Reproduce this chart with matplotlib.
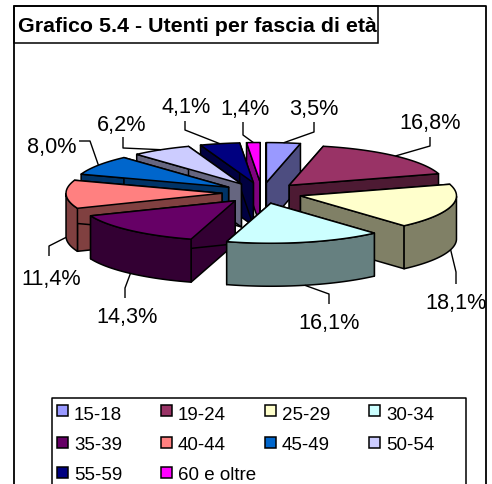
import numpy as np
import matplotlib
matplotlib.use('Agg')
from matplotlib import pyplot as plt
from matplotlib.patches import Polygon, Rectangle

plt.rcParams['font.family'] = ['Liberation Sans', 'DejaVu Sans']

title = "Grafico 5.4 - Utenti per fascia di età"
categories = ['15-18', '19-24', '25-29', '30-34', '35-39', '40-44', '45-49', '50-54', '55-59', '60 e oltre']
values = [3.5, 16.8, 18.1, 16.1, 14.3, 11.4, 8.0, 6.2, 4.1, 1.4]
value_labels = ['3,5%', '16,8%', '18,1%', '16,1%', '14,3%', '11,4%', '8,0%', '6,2%', '4,1%', '1,4%']
top_colors = ['#9999FF', '#993366', '#FFFFCC', '#CCFFFF', '#660066', '#FF8080', '#0066CC', '#CCCCFF', '#000080', '#FF00FF']
side_colors = ['#4D4D80', '#4D1A33', '#808066', '#668080', '#330033', '#804040', '#003366', '#666680', '#000040', '#800080']

# label centres and leader elbows, in pixels
label_pos = [(314, 109), (430, 123), (456, 304), (329, 324), (127, 318), (51, 279), (52, 147), (122, 125), (186, 107), (245, 109)]
elbows = [[(314, 132), (314, 122)], [(430, 146), (430, 137)], [(456, 272), (456, 284)], [(329, 294), (329, 304)],
          [(125, 288), (125, 298)], [(49, 246), (49, 256)], [(90, 141), (79, 141)], [(123, 148), (123, 137)],
          [(185, 130), (185, 121)], [(243, 135), (243, 122)]]

# pie geometry in pixels
cx, cy = 262, 193
rx, ry = 156, 40
ex, ey = 40, 10.5
depth = 43
edge = dict(edgecolor='black', linewidth=1.1, joinstyle='round')

fig = plt.figure(figsize=(4.92, 4.84), dpi=100)
ax = fig.add_axes([0, 0, 1, 1])
ax.set_xlim(0, 492)
ax.set_ylim(484, 0)
ax.axis('off')


def rim_point(a, ox, oy):
    return ox + rx * np.sin(a), oy - ry * np.cos(a)


shares = np.array(values) / sum(values)
ends = np.cumsum(shares) * 2 * np.pi
starts = ends - shares * 2 * np.pi
mids = (starts + ends) / 2

# back slices first, so the front ones cover them
order = np.argsort(-np.cos(mids))
for i in order:
    ox = cx + ex * np.sin(mids[i])
    oy = cy - ey * np.cos(mids[i])
    arc = np.linspace(starts[i], ends[i], 60)
    xs, ys = rim_point(arc, ox, oy)
    top = [(ox, oy)] + list(zip(xs, ys))

    for a in (starts[i], ends[i]):
        px, py = rim_point(a, ox, oy)
        ax.add_patch(Polygon([(ox, oy), (px, py), (px, py + depth), (ox, oy + depth)], facecolor=side_colors[i], **edge))

    front = arc[np.cos(arc) <= 0]
    if len(front) > 1:
        fx, fy = rim_point(front, ox, oy)
        wall = list(zip(fx, fy)) + list(zip(fx[::-1], fy[::-1] + depth))
        ax.add_patch(Polygon(wall, facecolor=side_colors[i], **edge))

    ax.add_patch(Polygon(top, facecolor=top_colors[i], **edge))

# leader lines and value labels
for i in range(len(values)):
    ox = cx + ex * np.sin(mids[i])
    oy = cy - ey * np.cos(mids[i])
    px, py = rim_point(mids[i], ox, oy)
    if np.cos(mids[i]) <= 0:
        py += depth
    pts = [(px, py)] + elbows[i]
    ax.plot([p[0] for p in pts], [p[1] for p in pts], color='black', lw=1.0, solid_capstyle='butt')
    ax.text(label_pos[i][0], label_pos[i][1], value_labels[i], fontsize=15.6, color='black', ha='center', va='center')

# outer frame, runs off the bottom of the picture
ax.plot([13.5, 13.5, 485.5, 485.5], [490, 5.5, 5.5, 490], color='black', lw=1.3)
ax.add_patch(Rectangle((13.5, 5.5), 364.5, 37.5, facecolor='white', edgecolor='black', lw=1.1))
ax.text(18, 27, title, fontsize=15.4, fontweight='bold', color='black', ha='left', va='center')

# legend box, also cut by the bottom edge
ax.plot([51.5, 51.5, 465.5, 465.5], [490, 398, 398, 490], color='black', lw=1.1)
col_x = [57, 161, 265, 369]
row_y = [416, 446, 475.5]
marker_y = [405, 437, 467]
for i, name in enumerate(categories):
    lx = col_x[i % 4]
    ax.add_patch(Rectangle((lx, marker_y[i // 4]), 11, 11, facecolor=top_colors[i], edgecolor='black', lw=1.1))
    ax.text(lx + 17, row_y[i // 4], name, fontsize=13.5, color='black', ha='left', va='center')

fig.savefig('out.png', dpi=100)
